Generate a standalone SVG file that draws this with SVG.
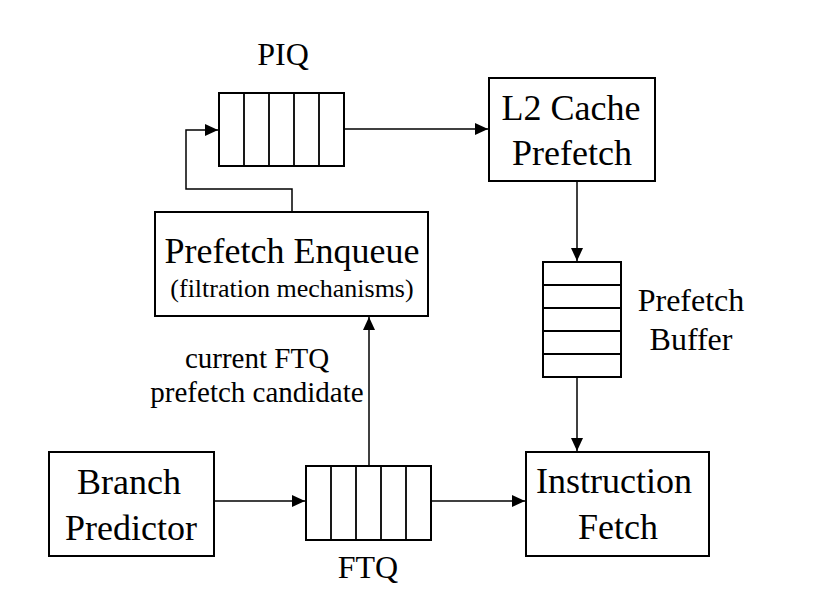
<svg xmlns="http://www.w3.org/2000/svg" width="822" height="595" viewBox="0 0 822 595">
<defs>
<marker id="arr" markerUnits="userSpaceOnUse" markerWidth="14" markerHeight="14" refX="13" refY="6" orient="auto">
<path d="M0,0 L13,6 L0,12 z" fill="#000"/>
</marker>
<style>
.box{fill:#fff;stroke:#000;stroke-width:2}
.cell{fill:none;stroke:#000;stroke-width:1.8}
.con{fill:none;stroke:#000;stroke-width:1.5;marker-end:url(#arr)}
text{font-family:"Liberation Serif","Times New Roman",serif;fill:#000;text-anchor:middle}
.big{font-size:36px}
.mid{font-size:32px}
.sm{font-size:26px}
.lbl{font-size:29px}
</style>
</defs>
<rect width="822" height="595" fill="#fff"/>
<g id="connectors">
<path class="con" d="M292,212 V189 H186 V130 H218"/>
<path class="con" d="M344,129 H488"/>
<path class="con" d="M577,181 V261"/>
<path class="con" d="M577,377 V451"/>
<path class="con" d="M214,501 H305"/>
<path class="con" d="M431,501 H525"/>
<path class="con" d="M369,466 V317"/>
</g>
<g id="piq">
<rect class="box" x="219" y="93" width="125" height="73"/>
<path class="cell" d="M244,93 V166 M269,93 V166 M294,93 V166 M319,93 V166"/>
<text class="mid" x="283" y="65">PIQ</text>
</g>
<g id="l2cache">
<rect class="box" x="489" y="78" width="166" height="103"/>
<text class="big" x="571" y="120">L2 Cache</text>
<text class="big" x="572" y="165">Prefetch</text>
</g>
<g id="prefetch-enqueue">
<rect class="box" x="155" y="212" width="273" height="104"/>
<text class="big" x="292" y="263">Prefetch Enqueue</text>
<text class="sm" x="292" y="297">(filtration mechanisms)</text>
</g>
<g id="prefetch-buffer">
<rect class="box" x="543" y="262" width="78" height="115"/>
<path class="cell" d="M543,285 H621 M543,308 H621 M543,331 H621 M543,354 H621"/>
<text class="mid" x="691" y="311">Prefetch</text>
<text class="mid" x="691" y="350">Buffer</text>
</g>
<g id="branch-predictor">
<rect class="box" x="49" y="452" width="165" height="104"/>
<text class="big" x="129" y="494">Branch</text>
<text class="big" x="131" y="540">Predictor</text>
</g>
<g id="ftq">
<rect class="box" x="306" y="466" width="125" height="74"/>
<path class="cell" d="M331,466 V540 M356,466 V540 M381,466 V540 M406,466 V540"/>
<text class="mid" x="368" y="578">FTQ</text>
</g>
<g id="instruction-fetch">
<rect class="box" x="526" y="452" width="183" height="104"/>
<text class="big" x="614" y="493">Instruction</text>
<text class="big" x="618" y="539">Fetch</text>
</g>
<g id="label-candidate">
<text class="lbl" x="257" y="368">current FTQ</text>
<text class="lbl" x="257" y="402">prefetch candidate</text>
</g>
</svg>
